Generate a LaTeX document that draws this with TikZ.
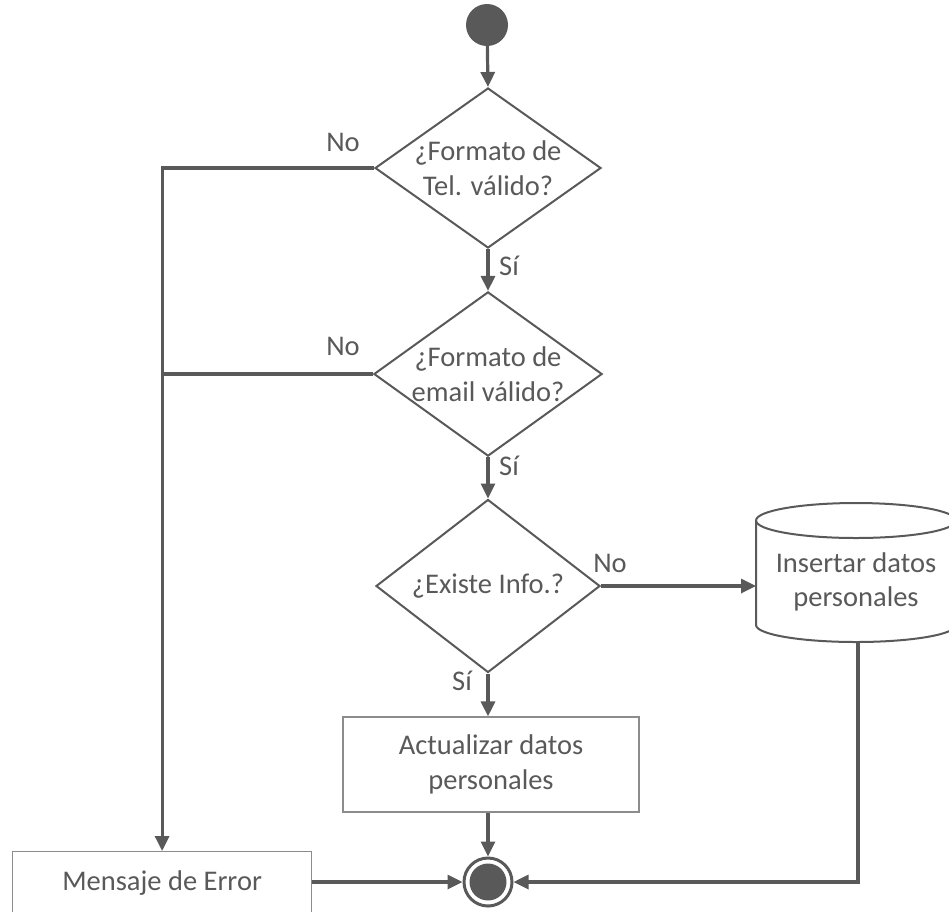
\documentclass[tikz,border=0pt]{standalone}
\usepackage{fontspec}
\setmainfont{Carlito}
\usetikzlibrary{shapes.geometric,arrows.meta}
\definecolor{ln}{HTML}{595959}
\definecolor{bx}{HTML}{8C8C8C}
\definecolor{tx}{HTML}{595959}
\tikzset{
  conn/.style={draw=ln,line width=3.2pt,-{Triangle[length=15pt,width=14pt]}},
  plain/.style={draw=ln,line width=3.2pt},
  dec/.style={diamond,draw=ln,line width=2pt,inner sep=0pt,text=tx,align=center,
     font=\fontsize{28.5}{34.5}\selectfont},
  actbox/.style={rectangle,draw=bx,line width=1.2pt,text=tx,align=center,
     font=\fontsize{28.5}{34.5}\selectfont},
  lbl/.style={text=tx,font=\fontsize{28.5}{34.5}\selectfont,inner sep=0pt},
}
\begin{document}
\begin{tikzpicture}[x=1pt,y=-1pt]
\useasboundingbox (0,0) rectangle (949,911);
\clip (0,0) rectangle (949,911);
% start
\node[circle,fill=ln,minimum size=42pt,inner sep=0pt] (start) at (487,25) {};
% decisions
\node[dec,minimum width=226pt,minimum height=160pt,shape aspect=1.41] (d1) at (488,168) {¿Formato de\\Tel. válido?};
\node[dec,minimum width=226pt,minimum height=162pt,shape aspect=1.39] (d2) at (488,374) {¿Formato de\\email válido?};
\node[dec,minimum width=224pt,minimum height=173pt,shape aspect=1.29] (d3) at (488,586) {¿Existe Info.?};
% boxes
\node[actbox,minimum width=296pt,minimum height=95pt] (act) at (491,764.5) {Actualizar datos\\personales};
\node[actbox,minimum width=299pt,minimum height=62pt,anchor=north west] (err) at (12,851) {Mensaje de Error};
% cylinder
\draw[ln,line width=2pt,fill=white] (756,520.5) -- (756,625) arc[start angle=180,end angle=0,x radius=100,y radius=17] -- (956,520.5);
\draw[ln,line width=2pt] (856,520.5) ellipse [x radius=100,y radius=17.5];
\node[text=tx,align=center,font=\fontsize{28.5}{34.5}\selectfont,inner sep=0pt] (cyl) at (856,582) {Insertar datos\\personales};
% end
\node[circle,draw=ln,line width=3pt,minimum size=48pt,inner sep=0pt] (end) at (488,882) {};
\fill[ln] (end.center) circle (18.5pt);
% connectors
\coordinate (j1) at (err.north |- d1.west);
\coordinate (j2) at (err.north |- d2.west);
\coordinate (cylin) at (756,586);
\coordinate (cylout) at (858,641);
\coordinate (c3) at (858,882);
\draw[conn] (start) -- (d1.north);
\draw[conn] (d1.south) -- (d2.north);
\draw[conn] (d2.south) -- (d3.north);
\draw[conn] (d3.south) -- (d3.south |- act.north);
\draw[conn] (d1.west) -- (j1) -- (err.north);
\draw[plain] (d2.west) -- (j2);
\draw[conn] (d3.east) -- (cylin);
\draw[conn] (act.south -| end.north) -- (end.north);
\draw[conn] (err.east |- end.west) -- (end.west);
\draw[conn] (cylout) -- (c3) -- (end.east);
% labels
\node[lbl] (n1) at (343,142) {No};
\node[lbl] (s1) at (509,266) {Sí};
\node[lbl] (n2) at (343,346) {No};
\node[lbl] (s2) at (509,466) {Sí};
\node[lbl] (n3) at (610,563) {No};
\node[lbl] (s3) at (462,681) {Sí};
\end{tikzpicture}
\end{document}
